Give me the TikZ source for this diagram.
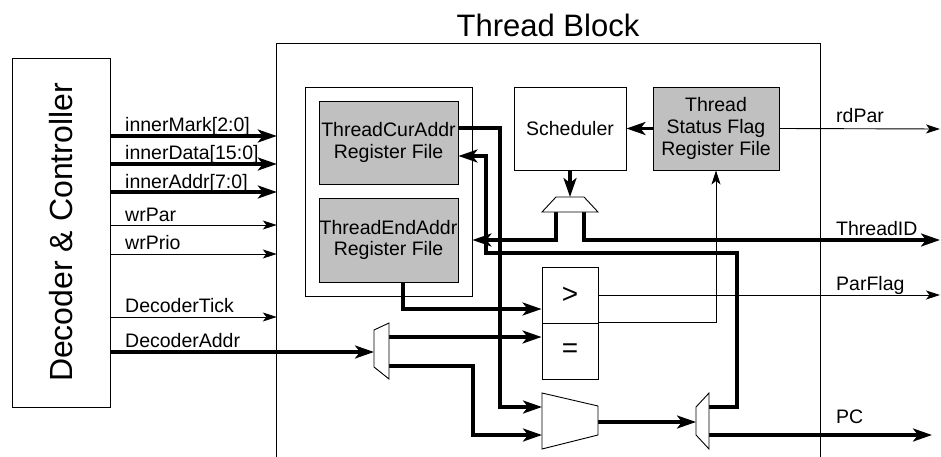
\documentclass[tikz,border=0pt]{standalone}
\usepackage{fontspec}
\setmainfont{Liberation Sans}
\usetikzlibrary{arrows.meta,calc}
\definecolor{regGray}{RGB}{192,192,192}
\begin{document}
\begin{tikzpicture}[x=1pt,y=-1pt,
  box/.style={draw, line width=0.9pt, inner sep=0pt, align=center, font=\fontsize{19.5}{21.7}\selectfont},
  grayb/.style={box, fill=regGray},
  thk/.style={line width=3.2pt, -{Stealth[length=19pt,width=13pt,inset=5pt]}},
  thn/.style={line width=0.9pt, -{Stealth[length=14pt,width=9pt,inset=3.5pt]}},
  lbl/.style={anchor=base west, inner sep=0pt, font=\fontsize{19.5}{21.7}\selectfont},
  bigtxt/.style={inner sep=0pt, font=\fontsize{31}{35}\selectfont},
  muxs/.style={draw, line width=0.9pt, fill=white, line join=miter}
]
\useasboundingbox (0,0) rectangle (941,457);

% Decoder & Controller
\node[draw, line width=0.9pt, minimum width=98pt, minimum height=349pt, inner sep=0pt] (dec) at (61,232.5) {};
\node[bigtxt, rotate=90, font=\fontsize{32}{36}\selectfont] (dectxt) at (61,232.5) {Decoder \& Controller};

% Thread block
\node[minimum width=543pt, minimum height=413pt, inner sep=0pt] (tb) at (548.5,250.5) {};
\draw[line width=0.9pt] (tb.south west) -- (tb.north west) -- (tb.north east) -- (tb.south east);
\node[bigtxt] (tbtitle) at (548,25) {Thread Block};

% register file group
\node[box, minimum width=167pt, minimum height=209pt] (regs) at (388.5,191.5) {};
\node[grayb, minimum width=139pt, minimum height=83pt] (cur) at (388.5,142.5) {ThreadCurAddr\\Register File};
\node[grayb, minimum width=139pt, minimum height=84pt] (endr) at (388.5,240) {ThreadEndAddr\\Register File};

% scheduler and flags
\node[box, minimum width=112pt, minimum height=83pt] (sched) at (570,128.5) {Scheduler};
\node[grayb, minimum width=126pt, minimum height=83pt] (flag) at (716,128.5) {Thread\\Status Flag\\Register File};

% comparators
\node[box, minimum width=56pt, minimum height=56pt, font=\fontsize{28}{30}\selectfont] (cmpG) at (570,295) {>};
\node[box, minimum width=56pt, minimum height=56pt, font=\fontsize{28}{30}\selectfont] (cmpE) at (570,351) {=};

% mux pins
\coordinate (smuxIn) at (570,197);
\coordinate (smuxL) at (556,212);
\coordinate (smuxR) at (584,212);
\coordinate (mux1In) at (374,352);
\coordinate (mux1o1) at (389,337);
\coordinate (mux1o2) at (389,366);
\coordinate (bmuxI1) at (542,407);
\coordinate (bmuxI2) at (542,435);
\coordinate (bmuxO) at (598,422);
\coordinate (mux2In) at (696,422);
\coordinate (mux2o1) at (709,407);
\coordinate (mux2o2) at (709,435);
\coordinate (rdParEnd) at (940,129);
\coordinate (tidEnd) at (940,240);
\coordinate (parEnd) at (940,295);
\coordinate (pcEnd) at (932,435);

% inputs from decoder
\draw[thk] (dec.east |- 0,136) -- (tb.west |- 0,136);
\draw[thk] (dec.east |- 0,164) -- (tb.west |- 0,164);
\draw[thk] (dec.east |- 0,192) -- (tb.west |- 0,192);
\draw[thn] (dec.east |- 0,225) -- (tb.west |- 0,225);
\draw[thn] (dec.east |- 0,254) -- (tb.west |- 0,254);
\draw[thn] (dec.east |- 0,317) -- (tb.west |- 0,317);
\draw[thk] (dec.east |- 0,352) -- (mux1In);

\node[lbl] (l1) at (125,132) {innerMark[2:0]};
\node[lbl] (l2) at (125,160) {innerData[15:0]};
\node[lbl] (l3) at (125,188) {innerAddr[7:0]};
\node[lbl] (l4) at (125,221) {wrPar};
\node[lbl] (l5) at (125,249) {wrPrio};
\node[lbl] (l6) at (125,312.5) {DecoderTick};
\node[lbl] (l7) at (125,347) {DecoderAddr};

% internal connections
\draw[thk] (flag.west) -- (sched.east);
\draw[thn] (flag.east) -- (rdParEnd);
\draw[thk] (sched.south) -- (smuxIn);
\draw[thk] (smuxL) |- (regs.east |- 0,240);
\draw[thk] (smuxR) |- (tidEnd);
\draw[thk] (cur.east |- 0,128) -- (500,128) |- (bmuxI1);
\draw[thk] (mux2o1) -- (737,407) -- (737,253) -- (486,253) -- (486,156) -- (cur.east |- 0,156);
\draw[thk] (endr.south -| 403,0) |- (cmpG.west |- 0,309);
\draw[thk] (mux1o1) -- (cmpE.west |- mux1o1);
\draw[thk] (mux1o2) -- (473,366) |- (bmuxI2);
\draw[thk] (bmuxO) -- (mux2In);
\draw[thk] (mux2o2) -- (pcEnd);
\draw[thn] (cmpG.east) -- (parEnd);
\draw[thn] (cmpE.north east) -| (flag.south);

% muxes
\draw[muxs] (556,197) -- (584,197) -- (598,212) -- (542,212) -- cycle;
\draw[muxs] (374,330) -- (389,323) -- (389,379) -- (374,367) -- cycle;
\draw[muxs] (542,393) -- (598,406) -- (598,435) -- (542,449) -- cycle;
\draw[muxs] (696,407) -- (709,393) -- (709,449) -- (696,435) -- cycle;

% output labels
\node[lbl] (r1) at (836,123) {rdPar};
\node[lbl] (r2) at (836,235) {ThreadID};
\node[lbl] (r3) at (836,290) {ParFlag};
\node[lbl] (r4) at (836,423) {PC};
\end{tikzpicture}
\end{document}
